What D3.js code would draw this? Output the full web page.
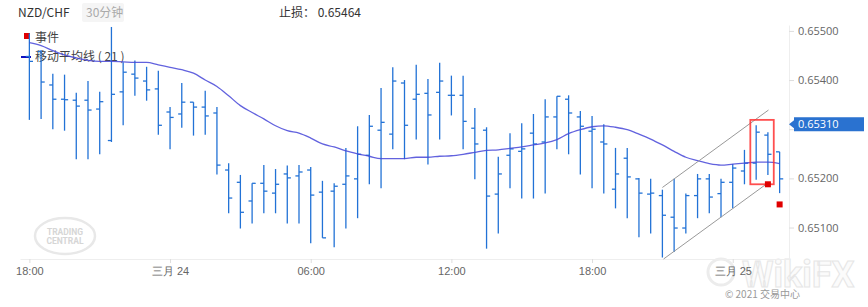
<!DOCTYPE html>
<html>
<head>
<meta charset="utf-8">
<script src="https://cdn.jsdelivr.net/npm/d3@7"></script>
<style>
  body { margin: 0; background: #fff; }
  svg { display: block; font-family: "Noto Sans CJK SC", "Noto Sans", sans-serif; }
</style>
</head>
<body>
<script>
// 30 min NZD/CHF bars
const opens = [0.65448,0.65458,0.65390,0.65361,0.65359,0.65359,0.65341,0.65277,0.65376,0.65412,
  0.65398,0.65382,0.65335,0.65331,0.65355,0.65345,0.65333,0.65217,0.65192,0.65154,
  0.65190,0.65170,0.65209,0.65205,0.65217,0.65172,0.65174,0.65188,0.65199,0.65247,
  0.65298,0.65290,0.65394,0.65361,0.65373,0.65375,0.65369,0.65369,0.65302,0.65298,
  0.65168,0.65247,0.65255,0.65292,0.65274,0.65325,0.65361,0.65325,0.65296,0.65274,
  0.65178,0.65241,0.65199,0.65168,0.65165,0.65121,0.65099,0.65165,0.65199,0.65169,
  0.65192,0.65215,0.65231,0.65288,0.65254];
const highs = [0.65495,0.65461,0.65413,0.65411,0.65374,0.65398,0.65376,0.65508,0.65436,0.65440,
  0.65427,0.65419,0.65345,0.65394,0.65355,0.65378,0.65345,0.65231,0.65207,0.65190,
  0.65227,0.65219,0.65226,0.65227,0.65223,0.65195,0.65190,0.65262,0.65306,0.65329,
  0.65384,0.65426,0.65400,0.65431,0.65402,0.65435,0.65409,0.65409,0.65343,0.65304,
  0.65244,0.65292,0.65312,0.65331,0.65361,0.65367,0.65369,0.65337,0.65327,0.65310,
  0.65262,0.65262,0.65201,0.65199,0.65177,0.65199,0.65169,0.65209,0.65209,0.65199,
  0.65229,0.65258,0.65308,0.65294,0.65254];
const lows = [0.65319,0.65321,0.65300,0.65297,0.65239,0.65239,0.65249,0.65274,0.65308,0.65368,
  0.65358,0.65289,0.65259,0.65303,0.65287,0.65289,0.65208,0.65129,0.65098,0.65108,
  0.65129,0.65129,0.65108,0.65108,0.65068,0.65079,0.65060,0.65098,0.65119,0.65188,
  0.65180,0.65259,0.65239,0.65279,0.65228,0.65279,0.65328,0.65259,0.65198,0.65057,
  0.65088,0.65180,0.65159,0.65159,0.65169,0.65259,0.65249,0.65208,0.65180,0.65169,
  0.65139,0.65119,0.65080,0.65088,0.65039,0.65050,0.65088,0.65119,0.65129,0.65121,
  0.65139,0.65188,0.65197,0.65207,0.65170];
const closes = [0.65438,0.65396,0.65361,0.65360,0.65347,0.65339,0.65356,0.65371,0.65416,0.65404,
  0.65380,0.65308,0.65324,0.65355,0.65345,0.65327,0.65227,0.65160,0.65131,0.65190,
  0.65174,0.65188,0.65201,0.65213,0.65166,0.65079,0.65184,0.65205,0.65249,0.65306,
  0.65314,0.65398,0.65308,0.65371,0.65329,0.65398,0.65369,0.65316,0.65270,0.65164,
  0.65209,0.65260,0.65260,0.65270,0.65325,0.65367,0.65333,0.65306,0.65300,0.65270,
  0.65209,0.65203,0.65170,0.65170,0.65125,0.65099,0.65165,0.65199,0.65162,0.65192,
  0.65221,0.65231,0.65294,0.65249,0.65199];
// moving average (21)
const ma21 = [0.65476,0.65470,0.65460,0.65451,0.65445,0.65440,0.65438,0.65438,0.65437,0.65436,
  0.65436,0.65431,0.65426,0.65421,0.65414,0.65400,0.65387,0.65368,0.65348,0.65334,
  0.65321,0.65307,0.65297,0.65292,0.65282,0.65270,0.65264,0.65256,0.65250,0.65245,
  0.65240,0.65240,0.65240,0.65243,0.65243,0.65245,0.65246,0.65249,0.65253,0.65257,
  0.65258,0.65261,0.65264,0.65268,0.65272,0.65279,0.65291,0.65299,0.65305,0.65307,
  0.65304,0.65299,0.65290,0.65280,0.65268,0.65255,0.65243,0.65236,0.65230,0.65227,
  0.65229,0.65231,0.65233,0.65233,0.65230];

const xTickIndex = [0, 12, 24, 36, 48, 60];
const xTickLabels = ["18:00", "三月 24", "06:00", "12:00", "18:00", "三月 25"];
const yTicks = [0.651, 0.652, 0.653, 0.654, 0.655];

// channel lines and the event markers (bar index, price)
const upperChannel = [[54.0, 0.651815], [63.05, 0.65339]];
const lowerChannel = [[54.1, 0.65036], [62.9, 0.65189]];
const boxBars = [61.5, 63.5];
const boxPrices = [0.65319, 0.65188];
const events = [[63, 0.65188], [64, 0.65147]];
const lastPrice = 0.65310;
const stopLoss = "0.65464";

const width = 868, height = 307;
const barColor = "#2272d6";
const fmt = d3.format(".5f");

const x = d3.scaleLinear().domain([-0.8, 64.8]).range([20, 789]);
const y = d3.scaleLinear().domain([0.65036, 0.65512]).range([259, 25]);

const svg = d3.select("body").append("svg")
    .attr("width", width)
    .attr("height", height);

// watermarks
const tc = svg.append("g").attr("fill", "#d6d6d6").attr("font-weight", "bold")
    .attr("text-anchor", "middle").attr("font-family", "Roboto, sans-serif");
tc.append("ellipse").attr("cx", 65).attr("cy", 236).attr("rx", 30).attr("ry", 18)
    .attr("fill", "none").attr("stroke", "#e8e8e8").attr("stroke-width", 2.5);
tc.append("text").attr("x", 65).attr("y", 235).attr("font-size", 8.5).text("TRADING");
tc.append("text").attr("x", 65).attr("y", 244).attr("font-size", 8.5).text("CENTRAL");

const wk = svg.append("g");
wk.append("circle").attr("cx", 721).attr("cy", 272).attr("r", 13)
    .attr("fill", "none").attr("stroke", "#ececec").attr("stroke-width", 3);
wk.append("text").attr("x", 742).attr("y", 287)
    .attr("font-size", 36).attr("font-weight", "bold")
    .attr("font-family", "Roboto, sans-serif")
    .attr("fill", "#fbfbfb").attr("stroke", "#e6e6e6").attr("stroke-width", 1)
    .text("WikiFX");
svg.append("text").attr("x", 725).attr("y", 298)
    .attr("font-size", 10).attr("fill", "#999")
    .text("© 2021 交易中心");

// axes (the 0.65300 label sits under the last-price tag, so it is left blank)
const yAxis = svg.append("g")
    .attr("transform", "translate(789,0)")
    .call(d3.axisRight(y).tickValues(yTicks)
        .tickFormat(d => Math.abs(d - lastPrice) < 0.0003 ? "" : fmt(d))
        .tickSize(5).tickSizeOuter(0).tickPadding(4));
yAxis.select(".domain").attr("stroke", "#eee");
yAxis.selectAll(".tick line").attr("stroke", "#ddd");
yAxis.selectAll("text").attr("fill", "#666").attr("font-size", 11)
    .attr("font-family", "'Open Sans', 'Noto Sans', sans-serif");

const xAxis = svg.append("g")
    .attr("transform", "translate(0,259)")
    .call(d3.axisBottom(x).tickValues(xTickIndex).tickFormat((d, i) => xTickLabels[i])
        .tickSize(4).tickSizeOuter(0).tickPadding(4));
xAxis.select(".domain").attr("stroke", "#eee");
xAxis.selectAll(".tick line").attr("stroke", "#ddd");
xAxis.selectAll("text").attr("fill", "#666").attr("font-size", 11);

// header
svg.append("text").attr("x", 18).attr("y", 17).attr("font-size", 12).attr("fill", "#333")
    .text("NZD/CHF");
svg.append("rect").attr("x", 82).attr("y", 3).attr("width", 42).attr("height", 19)
    .attr("rx", 2).attr("fill", "#f5f5f5");
svg.append("text").attr("x", 86).attr("y", 17).attr("font-size", 12).attr("fill", "#aaa")
    .text("30分钟");
svg.append("text").attr("x", 279).attr("y", 17).attr("font-size", 12).attr("fill", "#333")
    .text("止损： " + stopLoss);

// legend
svg.append("rect").attr("x", 24).attr("y", 33).attr("width", 6).attr("height", 6).attr("fill", "#e00000");
svg.append("text").attr("x", 35).attr("y", 42).attr("font-size", 12).attr("fill", "#444").text("事件");
svg.append("line").attr("x1", 21).attr("x2", 31).attr("y1", 57).attr("y2", 57)
    .attr("stroke", "#1010c0").attr("stroke-width", 2);
svg.append("text").attr("x", 35).attr("y", 61).attr("font-size", 12).attr("fill", "#444")
    .text("移动平均线 ( 21 )");

// ohlc bars
const bars = svg.append("g")
    .attr("stroke", barColor)
    .attr("stroke-width", 1.3)
    .selectAll("g")
    .data(d3.range(opens.length))
    .join("g");

bars.append("line")
    .attr("x1", i => x(i)).attr("x2", i => x(i))
    .attr("y1", i => y(highs[i])).attr("y2", i => y(lows[i]));
bars.append("line")
    .attr("x1", i => x(i) - 3.6).attr("x2", i => x(i))
    .attr("y1", i => y(opens[i])).attr("y2", i => y(opens[i]));
bars.append("line")
    .attr("x1", i => x(i)).attr("x2", i => x(i) + 3.6)
    .attr("y1", i => y(closes[i])).attr("y2", i => y(closes[i]));

// moving average
svg.append("path")
    .datum(ma21)
    .attr("fill", "none")
    .attr("stroke", "#4646d8")
    .attr("stroke-opacity", 0.85)
    .attr("stroke-width", 1.3)
    .attr("d", d3.line().x((d, i) => x(i)).y(d => y(d)).curve(d3.curveMonotoneX));

// channel
svg.selectAll(".channel")
    .data([upperChannel, lowerChannel])
    .join("line")
    .attr("class", "channel")
    .attr("x1", d => x(d[0][0])).attr("y1", d => y(d[0][1]))
    .attr("x2", d => x(d[1][0])).attr("y2", d => y(d[1][1]))
    .attr("stroke", "#999").attr("stroke-width", 1);

// highlight box
svg.append("rect")
    .attr("x", x(boxBars[0])).attr("y", y(boxPrices[0]))
    .attr("width", x(boxBars[1]) - x(boxBars[0]))
    .attr("height", y(boxPrices[1]) - y(boxPrices[0]))
    .attr("fill", "none").attr("stroke", "#ff3030").attr("stroke-opacity", 0.85)
    .attr("stroke-width", 1.8);

svg.selectAll(".event")
    .data(events)
    .join("rect")
    .attr("class", "event")
    .attr("x", d => x(d[0]) - 3).attr("y", d => y(d[1]) - 3)
    .attr("width", 6).attr("height", 6)
    .attr("fill", "#e00000");

// last price tag
const py = y(lastPrice);
svg.append("path")
    .attr("d", `M789,${py} L794,${py - 4} L794,${py - 7} L864,${py - 7} L864,${py + 7} L794,${py + 7} L794,${py + 4} Z`)
    .attr("fill", "#2a72d0");
svg.append("text").attr("x", 798).attr("y", py + 4).attr("font-size", 11)
    .attr("font-family", "'Open Sans', 'Noto Sans', sans-serif")
    .attr("fill", "#fff").text(fmt(lastPrice));
</script>
</body>
</html>
